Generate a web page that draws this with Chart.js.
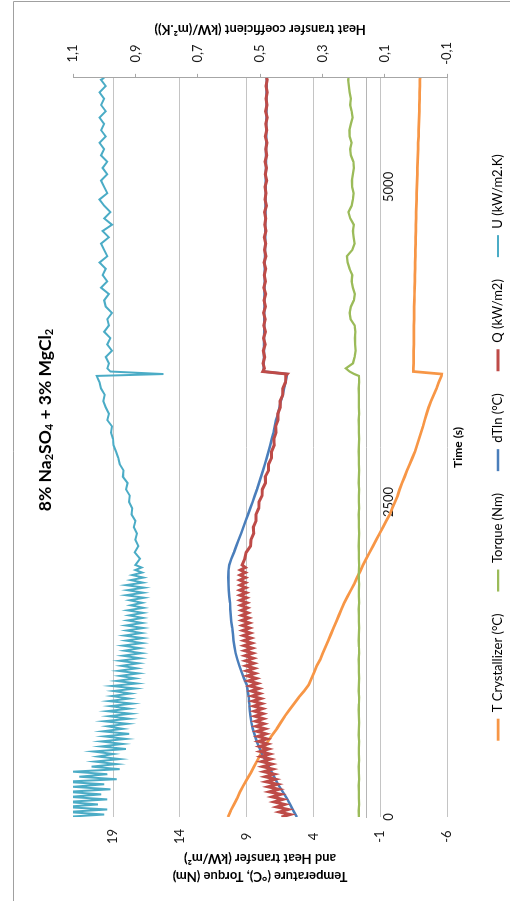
<!doctype html>
<html>
<head>
  <meta charset="utf-8">
  <title>8% Na2SO4 + 3% MgCl2</title>
  <script src="https://cdn.jsdelivr.net/npm/chart.js"></script>
  <style>
    html, body { margin: 0; padding: 0; background: #fff; overflow: hidden; }
    /* chart is drawn landscape, then turned a quarter left like the scan */
    #wrap { position: absolute; left: 0; top: 0; width: 901px; height: 510px;
            transform-origin: 0 0; transform: translate(0, 901px) rotate(-90deg); }
  </style>
</head>
<body>
  <div id="wrap"><canvas id="chart" width="901" height="510"></canvas></div>
  <script>
    // time (s) for the smoother series
    const timeSec = [
      0, 50, 100, 150, 200, 250, 300, 350, 400, 450,
      500, 550, 600, 650, 700, 750, 800, 850, 900, 950,
      1000, 1050, 1100, 1150, 1200, 1250, 1300, 1350, 1400, 1450,
      1500, 1550, 1600, 1650, 1700, 1750, 1800, 1850, 1900, 1950,
      2000, 2050, 2100, 2150, 2200, 2250, 2300, 2350, 2400, 2450,
      2500, 2550, 2600, 2650, 2700, 2750, 2800, 2850, 2900, 2950,
      3000, 3050, 3100, 3150, 3200, 3250, 3300, 3350, 3400, 3450,
      3500, 3515, 3535, 3560,
      3600, 3650, 3700, 3750, 3800, 3850, 3900, 3950, 4000, 4050,
      4100, 4150, 4200, 4250, 4300, 4350, 4400, 4450, 4500, 4550,
      4600, 4650, 4700, 4750, 4800, 4850, 4900, 4950, 5000, 5050,
      5100, 5150, 5200, 5250, 5300, 5350, 5400, 5450, 5500, 5550,
      5600, 5650, 5700, 5750, 5800, 5850, 5865
    ];
    // denser start for the noisy Q and U traces
    const fineTime = [
      0, 20, 40, 60, 80, 100, 120, 140, 160, 180,
      200, 220, 240, 260, 280, 300, 320, 340, 360, 380,
      400, 420, 440, 460, 480, 500, 520, 540, 560, 580,
      600, 620, 640, 660, 680, 700, 720, 740, 760, 780,
      800, 820, 840, 860, 880, 900, 920, 940, 960, 980,
      1000, 1020, 1040, 1060, 1080, 1100, 1120, 1140, 1160, 1180,
      1200, 1220, 1240, 1260, 1280, 1300, 1320, 1340, 1360, 1380,
      1400, 1420, 1440, 1460, 1480, 1500, 1520, 1540, 1560, 1580,
      1600, 1620, 1640, 1660, 1680, 1700, 1720, 1740, 1760, 1780,
      1800, 1820, 1840, 1860, 1880, 1900, 1920, 1940, 1960, 1980
    ];
    const noisyTime = fineTime.concat(timeSec.slice(40));

    const tCryst = [
      10.4, 10.2, 9.95, 9.7, 9.5, 9.25, 8.98, 8.7, 8.45, 8.2,
      7.95, 7.7, 7.42, 7.1, 6.75, 6.45, 6.15, 5.8, 5.45, 5.1,
      4.7, 4.35, 4.15, 3.95, 3.75, 3.5, 3.3, 3.1, 2.9, 2.7,
      2.5, 2.3, 2.1, 1.9, 1.7, 1.45, 1.2, 0.95, 0.75, 0.5,
      0.3, 0.05, -0.2, -0.45, -0.7, -0.95, -1.2, -1.45, -1.7, -1.9,
      -2.1, -2.3, -2.45, -2.63, -2.82, -3.0, -3.2, -3.4, -3.6, -3.75,
      -3.9, -4.05, -4.2, -4.33, -4.47, -4.62, -4.8, -5.0, -5.2, -5.38,
      -5.58, -5.6, -3.48, -3.48,
      -3.49, -3.5, -3.5, -3.51, -3.51, -3.52, -3.52, -3.53, -3.53, -3.54,
      -3.55, -3.56, -3.57, -3.58, -3.59, -3.6, -3.61, -3.62, -3.63, -3.64,
      -3.65, -3.66, -3.67, -3.68, -3.69, -3.7, -3.71, -3.72, -3.74, -3.75,
      -3.77, -3.78, -3.8, -3.81, -3.83, -3.84, -3.86, -3.87, -3.89, -3.9,
      -3.92, -3.93, -3.94, -3.95, -3.96, -3.97, -3.98
    ];
    const torque = [
      0.6, 0.62, 0.58, 0.61, 0.6, 0.63, 0.59, 0.6, 0.62, 0.58,
      0.61, 0.6, 0.59, 0.62, 0.6, 0.58, 0.61, 0.63, 0.6, 0.59,
      0.62, 0.6, 0.58, 0.61, 0.6, 0.62, 0.59, 0.6, 0.63, 0.6,
      0.58, 0.61, 0.6, 0.62, 0.59, 0.6, 0.61, 0.58, 0.62, 0.6,
      0.59, 0.61, 0.6, 0.63, 0.6, 0.58, 0.61, 0.6, 0.62, 0.59,
      0.6, 0.61, 0.58, 0.62, 0.6, 0.59, 0.61, 0.6, 0.63, 0.6,
      0.58, 0.61, 0.6, 0.62, 0.59, 0.6, 0.61, 0.6, 0.62, 0.59,
      0.6, 0.95, 1.3, 1.58,
      1.05, 0.92, 0.85, 0.88, 0.9, 0.86, 0.92, 1.22, 1.3, 1.2,
      0.98, 0.9, 1.05, 1.15, 1.1, 1.3, 1.45, 1.5, 1.1, 0.92,
      1.0, 1.05, 0.98, 1.25, 1.38, 1.15, 1.05, 1.0, 1.1, 1.12,
      1.05, 0.98, 1.02, 1.2, 1.25, 1.15, 1.3, 1.32, 1.2, 1.08,
      1.15, 1.25, 1.2, 1.3, 1.35, 1.4, 1.38
    ];
    const dTln = [
      5.25, 5.5, 5.75, 6.0, 6.3, 6.6, 6.85, 7.1, 7.35, 7.6,
      7.85, 8.05, 8.25, 8.4, 8.55, 8.65, 8.72, 8.78, 8.8, 8.85,
      8.92, 9.0, 9.2, 9.38, 9.55, 9.7, 9.83, 9.92, 9.98, 10.03,
      10.08, 10.15, 10.2, 10.23, 10.25, 10.3, 10.35, 10.37, 10.38, 10.37,
      10.3, 10.15, 9.95, 9.78, 9.6, 9.42, 9.25, 9.08, 8.9, 8.73,
      8.56, 8.4, 8.23, 8.08, 7.93, 7.78, 7.64, 7.5, 7.37, 7.24,
      7.12, 7.0, 6.9, 6.8, 6.65, 6.55, 6.45, 6.3, 6.2, 6.1,
      6.0, 5.98, 7.75, 7.73,
      7.72, 7.71, 7.71, 7.7, 7.7, 7.69, 7.69, 7.68, 7.68, 7.67,
      7.67, 7.66, 7.66, 7.65, 7.65, 7.64, 7.64, 7.63, 7.63, 7.62,
      7.62, 7.61, 7.61, 7.6, 7.6, 7.59, 7.59, 7.58, 7.58, 7.57,
      7.57, 7.56, 7.56, 7.55, 7.55, 7.54, 7.54, 7.53, 7.53, 7.52,
      7.52, 7.52, 7.51, 7.51, 7.5, 7.5, 7.5
    ];
    // Q and U follow noisyTime
    const qFlux = [
      6.4, 5.75, 6.55, 5.9, 6.75, 6.15, 6.95, 6.3, 7.1, 6.45,
      7.3, 6.6, 7.4, 6.7, 7.55, 6.85, 7.62, 6.95, 7.72, 7.05,
      7.8, 7.12, 7.88, 7.2, 7.92, 7.28, 7.98, 7.35, 8.02, 7.42,
      8.1, 7.48, 8.15, 7.55, 8.22, 7.62, 8.3, 7.7, 8.34, 7.75,
      8.38, 7.78, 8.42, 7.82, 8.48, 7.88, 8.55, 7.94, 8.6, 8.02,
      8.66, 8.08, 8.76, 8.18, 8.86, 8.28, 8.94, 8.36, 9.0, 8.42,
      9.05, 8.46, 9.08, 8.5, 9.12, 8.54, 9.16, 8.58, 9.2, 8.62,
      9.22, 8.68, 9.26, 8.72, 9.3, 8.77, 9.33, 8.8, 9.36, 8.84,
      9.38, 8.9, 9.4, 8.94, 9.45, 8.97, 9.48, 9.0, 9.5, 9.03,
      9.52, 9.06, 9.5, 9.08, 9.52, 9.08, 9.5, 9.1, 9.48, 9.1,
      9.34, 9.14, 9.04, 8.72, 8.68, 8.48, 8.5, 8.3, 8.31, 8.1,
      8.08, 7.85, 7.83, 7.6, 7.61, 7.37, 7.36, 7.14, 7.14, 6.94,
      6.97, 6.8, 6.83, 6.65, 6.67, 6.49, 6.5, 6.3, 6.3, 6.1,
      6.08, 5.96, 7.8, 7.68,
      7.78, 7.66, 7.75, 7.62, 7.74, 7.6, 7.72, 7.62, 7.73, 7.6,
      7.7, 7.58, 7.72, 7.6, 7.68, 7.57, 7.7, 7.56, 7.66, 7.58,
      7.68, 7.55, 7.65, 7.57, 7.66, 7.52, 7.62, 7.55, 7.63, 7.5,
      7.6, 7.52, 7.62, 7.5, 7.58, 7.49, 7.6, 7.5, 7.57, 7.47,
      7.58, 7.48, 7.55, 7.46, 7.56, 7.47, 7.52
    ];
    const uCoef = [
      1.13, 1.0, 1.12, 0.99, 1.13, 1.02, 1.12, 0.99, 1.11, 1.01,
      1.12, 0.98, 1.1, 1.0, 1.13, 0.96, 1.08, 0.99, 1.1, 0.95,
      1.04, 0.96, 1.03, 0.95, 1.02, 0.97, 1.035, 0.93, 1.01, 0.94,
      1.01, 0.93, 1.0, 0.92, 1.005, 0.94, 0.99, 0.925, 1.0, 0.92,
      0.985, 0.915, 0.99, 0.92, 0.98, 0.91, 0.985, 0.92, 0.975, 0.915,
      0.97, 0.9, 0.975, 0.895, 0.96, 0.9, 0.95, 0.89, 0.955, 0.895,
      0.945, 0.89, 0.95, 0.885, 0.94, 0.88, 0.935, 0.885, 0.94, 0.878,
      0.93, 0.876, 0.935, 0.88, 0.928, 0.875, 0.93, 0.878, 0.925, 0.876,
      0.92, 0.875, 0.925, 0.874, 0.915, 0.878, 0.918, 0.872, 0.93, 0.875,
      0.925, 0.872, 0.93, 0.876, 0.915, 0.874, 0.91, 0.878, 0.9, 0.88,
      0.9, 0.885, 0.902, 0.89, 0.9, 0.895, 0.905, 0.9, 0.912, 0.91,
      0.92, 0.918, 0.93, 0.925, 0.94, 0.938, 0.95, 0.955, 0.962, 0.97,
      0.972, 0.978, 0.975, 0.99, 0.985, 0.995, 1.003, 0.998, 1.01, 1.015,
      1.024, 0.81, 0.98, 0.99,
      0.985, 0.995, 0.975, 0.99, 0.98, 1.0, 0.985, 0.99, 0.975, 0.995,
      1.0, 0.985, 1.01, 0.99, 1.005, 0.995, 1.015, 0.99, 1.0, 1.01,
      0.985, 1.005, 0.975, 1.0, 0.98, 1.0, 1.015, 0.99, 1.0, 1.01,
      0.99, 1.005, 0.99, 1.01, 1.0, 1.015, 0.995, 1.01, 1.0, 1.015,
      0.995, 1.01, 1.0, 1.015, 0.995, 1.01, 1.0
    ];

    const seriesNames = ['T Crystallizer (°C)', 'Torque (Nm)', 'dTln (°C)', 'Q (kW/m2)', 'U (kW/m2.K)'];
    const timeTicks = [0, 2500, 5000];
    const tempTicks = [-6, -1, 4, 9, 14, 19];
    const coefTicks = [-0.1, 0.1, 0.3, 0.5, 0.7, 0.9, 1.1];
    const titleParts = [['8% Na', false], ['2', true], ['SO', false], ['4', true], [' + 3% MgCl', false], ['2', true]];
    const leftTitle = ['Temperature (°C), Torque (Nm)', 'and Heat transfer (kW/m²)'];
    const rightTitle = 'Heat transfer coefficient (kW/(m².K))';

    const FONT = 'Lato';
    Chart.defaults.font.family = FONT;
    Chart.defaults.color = '#1a1a1a';

    const line = (i, times, vals, color, width, axis, order) => ({
      label: seriesNames[i], data: vals.map((v, k) => ({ x: times[k], y: v })),
      borderColor: color, backgroundColor: color,
      borderWidth: width, yAxisID: axis, order: order,
      pointRadius: 0, tension: 0, fill: false
    });
    const setTicks = list => scale => { scale.ticks = list.map(v => ({ value: v })); };

    // white page, frame, title with subscripts, right axis title read upward
    const decor = {
      id: 'decor',
      beforeDraw(chart) {
        const ctx = chart.ctx;
        ctx.save();
        ctx.fillStyle = '#fff';
        ctx.fillRect(0, 0, chart.width, chart.height);
        ctx.strokeStyle = '#a0a0a0';
        ctx.lineWidth = 1;
        ctx.beginPath();
        ctx.moveTo(0, 13.5);
        ctx.lineTo(899.5, 13.5);
        ctx.lineTo(899.5, chart.height);
        ctx.stroke();
        ctx.restore();
      },
      afterDraw(chart) {
        const ctx = chart.ctx;
        const ca = chart.chartArea;
        ctx.save();
        ctx.fillStyle = '#000';
        const big = 'bold 17.5px ' + FONT, small = 'bold 11px ' + FONT;
        let w = 0;
        titleParts.forEach(([s, sub]) => { ctx.font = sub ? small : big; w += ctx.measureText(s).width; });
        let x = 481 - w / 2;
        titleParts.forEach(([s, sub]) => {
          ctx.font = sub ? small : big;
          ctx.fillText(s, x, sub ? 49 : 45);
          x += ctx.measureText(s).width;
        });
        ctx.translate(872, (ca.top + ca.bottom) / 2);
        ctx.rotate(-Math.PI / 2);
        ctx.font = 'bold 13px ' + FONT;
        ctx.textAlign = 'center';
        ctx.textBaseline = 'middle';
        ctx.fillText(rightTitle, 0, 0);
        ctx.restore();
      }
    };

    new Chart(document.getElementById('chart'), {
      type: 'line',
      data: {
        datasets: [
          line(0, timeSec, tCryst, '#F79646', 2.75, 'y', 5),
          line(1, timeSec, torque, '#9BBB59', 2.25, 'y', 4),
          line(2, timeSec, dTln, '#4A7EBB', 2.5, 'y', 3),
          line(3, noisyTime, qFlux, '#BE4B48', 3, 'y', 2),
          line(4, noisyTime, uCoef, '#4BACC6', 2, 'y1', 1)
        ]
      },
      options: {
        responsive: false,
        animation: false,
        layout: { padding: { left: 10, right: 33, top: 73, bottom: -4.5 } },
        scales: {
          x: {
            type: 'linear', position: { y: 0 }, min: 0, max: 5865,
            afterBuildTicks: setTicks(timeTicks),
            ticks: { font: { size: 13 }, padding: 14, maxRotation: 0, autoSkip: false,
                     callback: v => String(v) },
            grid: { display: false, drawTicks: false },
            border: { display: true, color: '#b5b5b5' }
          },
          x2: {
            type: 'linear', position: 'bottom', min: 0, max: 5865,
            ticks: { display: false },
            grid: { display: false, drawTicks: false },
            border: { display: false },
            title: { display: true, text: 'Time (s)', color: '#000',
                     font: { size: 12, weight: 'bold' }, padding: { top: 4, bottom: 4 } }
          },
          y: {
            type: 'linear', position: 'left', min: -6, max: 22,
            afterBuildTicks: setTicks(tempTicks),
            ticks: { font: { size: 13 }, padding: 3, crossAlign: 'center' },
            grid: { color: '#c4c4c4', drawTicks: true, tickLength: 9, tickColor: 'rgba(0,0,0,0)' },
            border: { display: false },
            title: { display: true, text: leftTitle, color: '#000',
                     font: { size: 13, weight: 'bold', lineHeight: 1.38 }, padding: { top: 6, bottom: 2 } }
          },
          y1: {
            type: 'linear', position: 'right', min: -0.1, max: 1.1,
            afterBuildTicks: setTicks(coefTicks),
            ticks: { font: { size: 13 }, padding: 9, crossAlign: 'center',
                     callback: v => v.toFixed(1).replace('.', ',') },
            grid: { drawOnChartArea: false, color: '#a6a6a6', tickLength: 4 },
            border: { display: true, color: '#a6a6a6' }
          }
        },
        plugins: {
          title: { display: false },
          tooltip: { enabled: false },
          legend: {
            position: 'bottom', fullSize: false,
            labels: {
              usePointStyle: true, pointStyle: 'line', pointStyleWidth: 22,
              font: { size: 13 }, color: '#000', padding: 22,
              sort: (a, b) => a.datasetIndex - b.datasetIndex
            }
          }
        }
      },
      plugins: [decor]
    });
  </script>
</body>
</html>
